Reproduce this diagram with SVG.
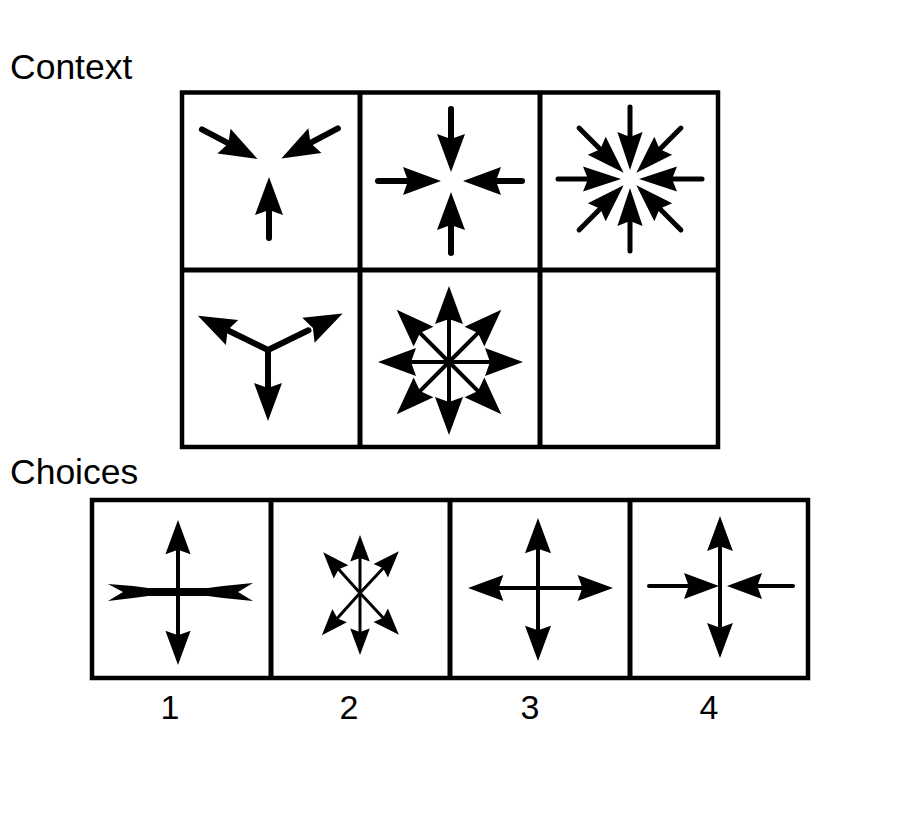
<svg xmlns="http://www.w3.org/2000/svg" xmlns:xlink="http://www.w3.org/1999/xlink" width="900" height="820" viewBox="0 0 900 820">
<style>
.lbl{font-family:"Liberation Sans",Arial,sans-serif;fill:#000}
.frame{fill:none;stroke:#000;stroke-width:4.5}
.s line{stroke:#000;stroke-linecap:round}
.w6 line{stroke-width:6}
.w5 line{stroke-width:5}
.w4 line{stroke-width:4}
.w3 line{stroke-width:3}
</style>
<defs>
<path id="h" d="M0,0 L-38,-14 L-33,0 L-38,14 Z" fill="#000"/>
</defs>
<rect width="900" height="820" fill="#fff"/>
<text class="lbl" x="10" y="79" font-size="35.5">Context</text>
<text class="lbl" x="10" y="484" font-size="35.5">Choices</text>

<g id="context-grid">
<rect class="frame" x="182" y="92.5" width="536" height="354.5"/>
<line x1="360" y1="92" x2="360" y2="447" stroke="#000" stroke-width="5"/>
<line x1="540" y1="92" x2="540" y2="447" stroke="#000" stroke-width="5"/>
<line x1="182" y1="270" x2="718" y2="270" stroke="#000" stroke-width="5"/>
</g>

<g id="cell-1" class="s w6" transform="translate(269,165)">
<g transform="rotate(-90)"><line x1="-73" y1="0" x2="-40" y2="0"/><use xlink:href="#h" x="-12"/></g>
<g transform="rotate(28)"><line x1="-76" y1="0" x2="-40" y2="0"/><use xlink:href="#h" x="-13"/></g>
<g transform="rotate(152)"><line x1="-78" y1="0" x2="-40" y2="0"/><use xlink:href="#h" x="-14"/></g>
</g>

<g id="cell-2" class="s w6" transform="translate(451,181)">
<g transform="rotate(90)"><line x1="-72" y1="0" x2="-40" y2="0"/><use xlink:href="#h" x="-9"/></g>
<g transform="rotate(0)"><line x1="-73" y1="0" x2="-40" y2="0"/><use xlink:href="#h" x="-10"/></g>
<g transform="rotate(180)"><line x1="-71" y1="0" x2="-40" y2="0"/><use xlink:href="#h" x="-12"/></g>
<g transform="rotate(-90)"><line x1="-72" y1="0" x2="-40" y2="0"/><use xlink:href="#h" x="-11"/></g>
</g>

<g id="cell-3" class="s w5" transform="translate(630,179)">
<g transform="rotate(0)"><line x1="-72" y1="0" x2="-40" y2="0"/><use xlink:href="#h" transform="translate(-9,0) scale(1,0.9)"/></g>
<g transform="rotate(45)"><line x1="-72" y1="0" x2="-40" y2="0"/><use xlink:href="#h" transform="translate(-9,0) scale(1,0.9)"/></g>
<g transform="rotate(90)"><line x1="-72" y1="0" x2="-40" y2="0"/><use xlink:href="#h" transform="translate(-9,0) scale(1,0.9)"/></g>
<g transform="rotate(135)"><line x1="-72" y1="0" x2="-40" y2="0"/><use xlink:href="#h" transform="translate(-9,0) scale(1,0.9)"/></g>
<g transform="rotate(180)"><line x1="-72" y1="0" x2="-40" y2="0"/><use xlink:href="#h" transform="translate(-9,0) scale(1,0.9)"/></g>
<g transform="rotate(225)"><line x1="-72" y1="0" x2="-40" y2="0"/><use xlink:href="#h" transform="translate(-9,0) scale(1,0.9)"/></g>
<g transform="rotate(270)"><line x1="-72" y1="0" x2="-40" y2="0"/><use xlink:href="#h" transform="translate(-9,0) scale(1,0.9)"/></g>
<g transform="rotate(315)"><line x1="-72" y1="0" x2="-40" y2="0"/><use xlink:href="#h" transform="translate(-9,0) scale(1,0.9)"/></g>
</g>

<g id="cell-4" class="s w6" transform="translate(268,350)">
<g transform="rotate(90)"><line x1="0" y1="0" x2="45" y2="0"/><use xlink:href="#h" x="71"/></g>
<g transform="rotate(206)"><line x1="0" y1="0" x2="45" y2="0"/><use xlink:href="#h" x="78"/></g>
<g transform="rotate(334)"><line x1="0" y1="0" x2="45" y2="0"/><use xlink:href="#h" x="83"/></g>
</g>

<g id="cell-5" class="s w4" transform="translate(449,362)">
<g transform="rotate(0)"><line x1="0" y1="0" x2="45" y2="0"/><use xlink:href="#h" x="74"/></g>
<g transform="rotate(45)"><line x1="0" y1="0" x2="45" y2="0"/><use xlink:href="#h" x="74"/></g>
<g transform="rotate(90)"><line x1="0" y1="0" x2="45" y2="0"/><use xlink:href="#h" x="73"/></g>
<g transform="rotate(135)"><line x1="0" y1="0" x2="45" y2="0"/><use xlink:href="#h" x="74"/></g>
<g transform="rotate(180)"><line x1="0" y1="0" x2="45" y2="0"/><use xlink:href="#h" x="71"/></g>
<g transform="rotate(225)"><line x1="0" y1="0" x2="45" y2="0"/><use xlink:href="#h" x="74"/></g>
<g transform="rotate(270)"><line x1="0" y1="0" x2="45" y2="0"/><use xlink:href="#h" x="76"/></g>
<g transform="rotate(315)"><line x1="0" y1="0" x2="45" y2="0"/><use xlink:href="#h" x="74"/></g>
</g>

<g id="choices-grid">
<rect class="frame" x="92" y="500" width="716" height="178"/>
<line x1="271" y1="500" x2="271" y2="678" stroke="#000" stroke-width="5"/>
<line x1="450" y1="500" x2="450" y2="678" stroke="#000" stroke-width="5"/>
<line x1="630" y1="500" x2="630" y2="678" stroke="#000" stroke-width="5"/>
</g>

<g id="choice-1" class="s w4" transform="translate(178,592)">
<g transform="rotate(-90)"><line x1="0" y1="0" x2="45" y2="0"/><use xlink:href="#h" transform="translate(72,0) scale(0.9)"/></g>
<g transform="rotate(90)"><line x1="0" y1="0" x2="45" y2="0"/><use xlink:href="#h" transform="translate(73,0) scale(0.9)"/></g>
<path d="M-70,-8 L-45,-6 L-30,-4 L30,-4 L45,-6 L75,-9 L60,0 L75,9 L45,6 L30,4 L-30,4 L-45,6 L-70,9 L-55,0 Z" fill="#000"/>
</g>

<g id="choice-2" class="s w3" transform="translate(360,593)">
<g transform="rotate(-90)"><line x1="0" y1="0" x2="40" y2="0"/><use xlink:href="#h" transform="translate(58,0) scale(0.7)"/></g>
<g transform="rotate(90)"><line x1="0" y1="0" x2="40" y2="0"/><use xlink:href="#h" transform="translate(62,0) scale(0.7)"/></g>
<g transform="rotate(-132)"><line x1="0" y1="0" x2="40" y2="0"/><use xlink:href="#h" transform="translate(55,0) scale(0.7)"/></g>
<g transform="rotate(-47)"><line x1="0" y1="0" x2="40" y2="0"/><use xlink:href="#h" transform="translate(57,0) scale(0.7)"/></g>
<g transform="rotate(132)"><line x1="0" y1="0" x2="40" y2="0"/><use xlink:href="#h" transform="translate(57,0) scale(0.7)"/></g>
<g transform="rotate(47)"><line x1="0" y1="0" x2="40" y2="0"/><use xlink:href="#h" transform="translate(57,0) scale(0.7)"/></g>
</g>

<g id="choice-3" class="s w4" transform="translate(538,588)">
<g transform="rotate(-90)"><line x1="0" y1="0" x2="45" y2="0"/><use xlink:href="#h" transform="translate(70,0) scale(0.93)"/></g>
<g transform="rotate(90)"><line x1="0" y1="0" x2="45" y2="0"/><use xlink:href="#h" transform="translate(73,0) scale(0.93)"/></g>
<g transform="rotate(180)"><line x1="0" y1="0" x2="45" y2="0"/><use xlink:href="#h" transform="translate(70,0) scale(0.93)"/></g>
<g transform="rotate(0)"><line x1="0" y1="0" x2="45" y2="0"/><use xlink:href="#h" transform="translate(75,0) scale(0.93)"/></g>
</g>

<g id="choice-4" class="s w4" transform="translate(720,586)">
<g transform="rotate(-90)"><line x1="0" y1="0" x2="45" y2="0"/><use xlink:href="#h" transform="translate(70,0) scale(0.92)"/></g>
<g transform="rotate(90)"><line x1="0" y1="0" x2="45" y2="0"/><use xlink:href="#h" transform="translate(72,0) scale(0.92)"/></g>
<g transform="rotate(0)"><line x1="-71" y1="0" x2="-30" y2="0"/><use xlink:href="#h" transform="translate(-1,0) scale(0.92)"/></g>
<g transform="rotate(180)"><line x1="-73" y1="0" x2="-36" y2="0"/><use xlink:href="#h" transform="translate(-7,0) scale(0.92)"/></g>
</g>

<g id="labels">
<text class="lbl" x="170" y="719" font-size="34" text-anchor="middle">1</text>
<text class="lbl" x="349" y="719" font-size="34" text-anchor="middle">2</text>
<text class="lbl" x="530" y="719" font-size="34" text-anchor="middle">3</text>
<text class="lbl" x="709" y="719" font-size="34" text-anchor="middle">4</text>
</g>
</svg>
